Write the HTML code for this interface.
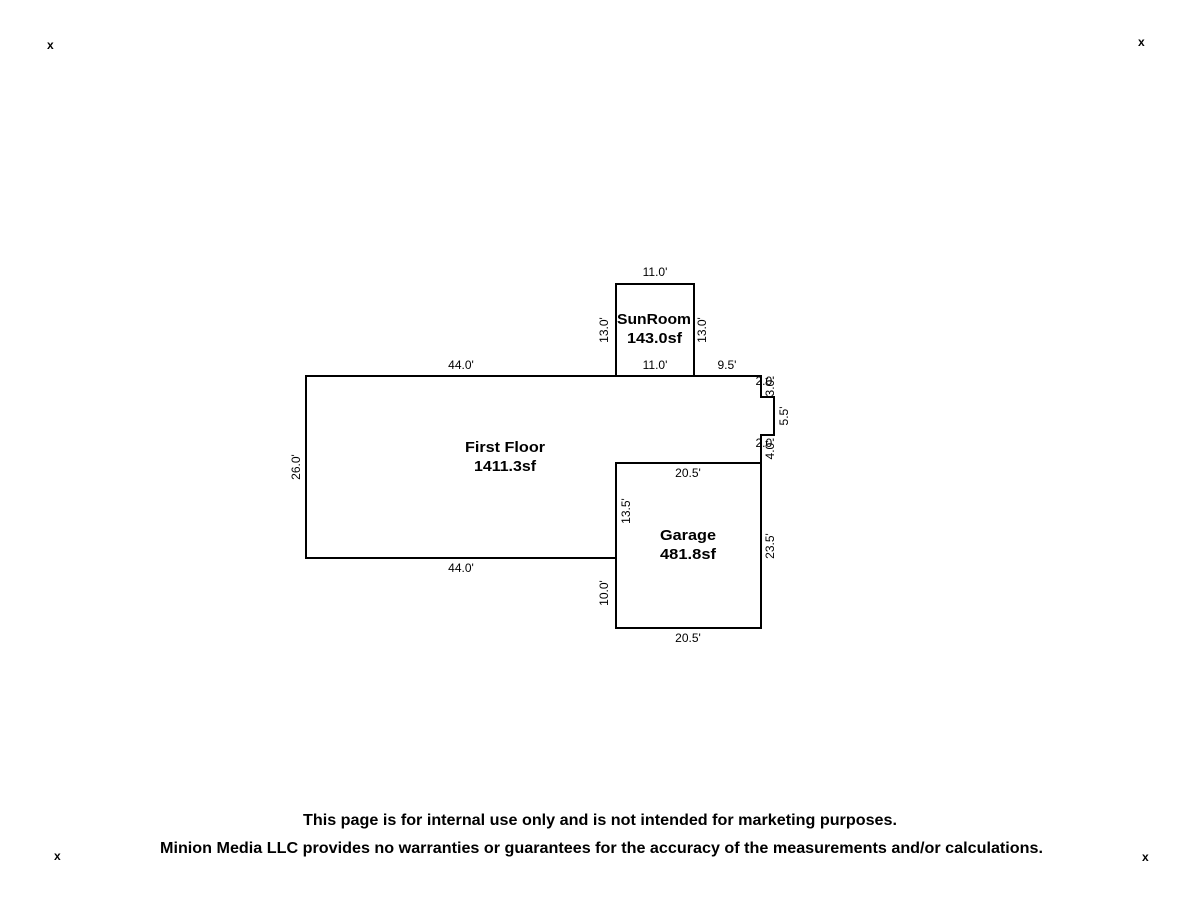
<!DOCTYPE html>
<html><head><style>
html,body{margin:0;padding:0;background:#fff}
svg{display:block}
text{font-family:"Liberation Sans",Arial,sans-serif;fill:#000}
.d{font-size:12px}
.b{font-size:15px;font-weight:bold}
.f{font-size:16px;font-weight:bold}
</style></head><body>
<svg width="1200" height="900" viewBox="0 0 1200 900">
<g stroke="#000" stroke-width="2" fill="none">
<rect x="616" y="284" width="78" height="92"/>
<path d="M306 376 H761 V397 H774 V435 H761 V463 H616 V558 H306 Z"/>
<rect x="616" y="463" width="145" height="165"/>
</g>
<g class="d" text-anchor="middle">
<text x="655" y="276">11.0'</text>
<text x="655" y="369">11.0'</text>
<text x="461" y="369">44.0'</text>
<text x="727" y="369">9.5'</text>
<text x="461" y="572">44.0'</text>
<text x="688" y="477">20.5'</text>
<text x="688" y="642">20.5'</text>
<text x="765" y="447">2.0'</text>
<text x="765" y="385">2.0'</text>
<text transform="translate(608,330) rotate(-90)">13.0'</text>
<text transform="translate(706,330) rotate(-90)">13.0'</text>
<text transform="translate(300,467) rotate(-90)">26.0'</text>
<text transform="translate(630,511) rotate(-90)">13.5'</text>
<text transform="translate(608,593) rotate(-90)">10.0'</text>
<text transform="translate(774,546) rotate(-90)">23.5'</text>
<text transform="translate(788,416) rotate(-90)">5.5'</text>
<text transform="translate(774,387) rotate(-90)">3.0'</text>
<text transform="translate(774,450) rotate(-90)">4.0'</text>
</g>
<g>
<text class="b" x="617" y="324" textLength="74" lengthAdjust="spacingAndGlyphs">SunRoom</text>
<text class="b" x="627" y="343" textLength="55" lengthAdjust="spacingAndGlyphs">143.0sf</text>
<text class="b" x="465" y="452" textLength="80" lengthAdjust="spacingAndGlyphs">First Floor</text>
<text class="b" x="474" y="471" textLength="62" lengthAdjust="spacingAndGlyphs">1411.3sf</text>
<text class="b" x="660" y="540" textLength="56" lengthAdjust="spacingAndGlyphs">Garage</text>
<text class="b" x="660" y="559" textLength="56" lengthAdjust="spacingAndGlyphs">481.8sf</text>
<text class="f" x="303" y="825" textLength="594" lengthAdjust="spacingAndGlyphs">This page is for internal use only and is not intended for marketing purposes.</text>
<text class="f" x="160" y="853" textLength="883" lengthAdjust="spacingAndGlyphs">Minion Media LLC provides no warranties or guarantees for the accuracy of the measurements and/or calculations.</text>
</g>
<g style="font-size:12px;font-weight:bold">
<text x="47" y="49">x</text>
<text x="1138" y="46">x</text>
<text x="54" y="860">x</text>
<text x="1142" y="861">x</text>
</g>
</svg>
</body></html>
